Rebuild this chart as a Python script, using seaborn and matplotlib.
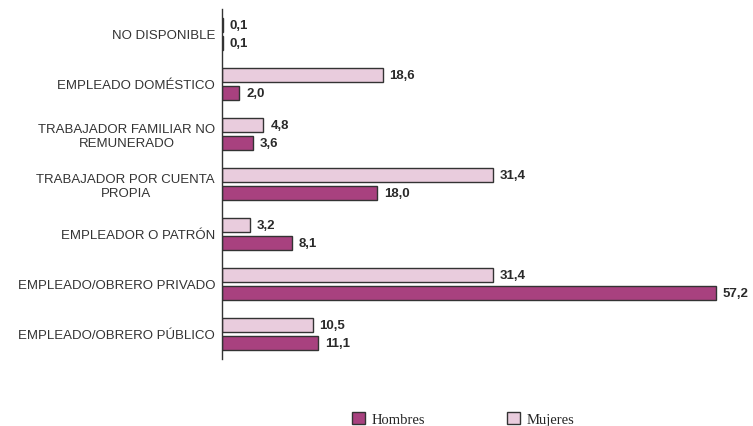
import pandas as pd
import matplotlib.pyplot as plt
import seaborn as sns
from matplotlib.patches import Patch
from matplotlib.ticker import FixedLocator

categorias = ['NO DISPONIBLE', 'EMPLEADO DOMÉSTICO',
              'TRABAJADOR FAMILIAR NO\nREMUNERADO',
              'TRABAJADOR POR CUENTA\nPROPIA', 'EMPLEADOR O PATRÓN',
              'EMPLEADO/OBRERO PRIVADO', 'EMPLEADO/OBRERO PÚBLICO']
mujeres = [0.1, 18.6, 4.8, 31.4, 3.2, 31.4, 10.5]
hombres = [0.1, 2.0, 3.6, 18.0, 8.1, 57.2, 11.1]

color_h = '#A8417F'
color_m = '#E9CCDD'

df = pd.DataFrame({
    'categoria': categorias * 2,
    'valor': mujeres + hombres,
    'sexo': ['Mujeres'] * len(mujeres) + ['Hombres'] * len(hombres),
})

sns.set_style('white')
plt.rcParams['font.family'] = ['Liberation Sans', 'DejaVu Sans']

fig = plt.figure(figsize=(7.53, 4.27), dpi=100)
ax = fig.add_axes([222 / 753, 1 - 360 / 427, 518 / 753, 350 / 427])

sns.barplot(data=df, x='valor', y='categoria', hue='sexo',
            hue_order=['Mujeres', 'Hombres'], order=categorias,
            palette={'Mujeres': color_m, 'Hombres': color_h}, saturation=1,
            width=0.72, gap=0.22, edgecolor='#333333', linewidth=1.0,
            legend=False, ax=ax)

# etiquetas de valor
for cont in ax.containers:
    labels = [f'{v:.1f}'.replace('.', ',') for v in cont.datavalues]
    ax.bar_label(cont, labels=labels, padding=5, fontsize=9.5,
                 fontweight='bold', color='#2a2a2a')

ax.set_xlim(0, 60)
ax.set_ylim(len(categorias) - 0.5, -0.5)
ax.set_xlabel('')
ax.set_ylabel('')
ax.set_xticks([])
for s in ['top', 'right', 'bottom']:
    ax.spines[s].set_visible(False)
ax.spines['left'].set_color('#333333')
ax.spines['left'].set_linewidth(1.0)

ax.tick_params(axis='y', which='major', length=0, pad=5, labelsize=9.5,
               labelcolor='#333333')
ax.yaxis.set_minor_locator(FixedLocator([i + 0.5 for i in range(-1, len(categorias))]))
ax.tick_params(axis='y', which='minor', length=4, width=1.0, color='#333333')
for lbl in ax.get_yticklabels():
    lbl.set_multialignment('center')

handles = [Patch(facecolor=color_h, edgecolor='#333333', label='Hombres'),
           Patch(facecolor=color_m, edgecolor='#333333', label='Mujeres')]
fig.legend(handles=handles, loc='center', bbox_to_anchor=(0.615, 0.016),
           ncol=2, frameon=False, columnspacing=5.6, handlelength=0.9,
           handleheight=0.9, handletextpad=0.45,
           prop={'family': 'Liberation Serif', 'size': 10.5})

fig.savefig('out.png', dpi=100)
